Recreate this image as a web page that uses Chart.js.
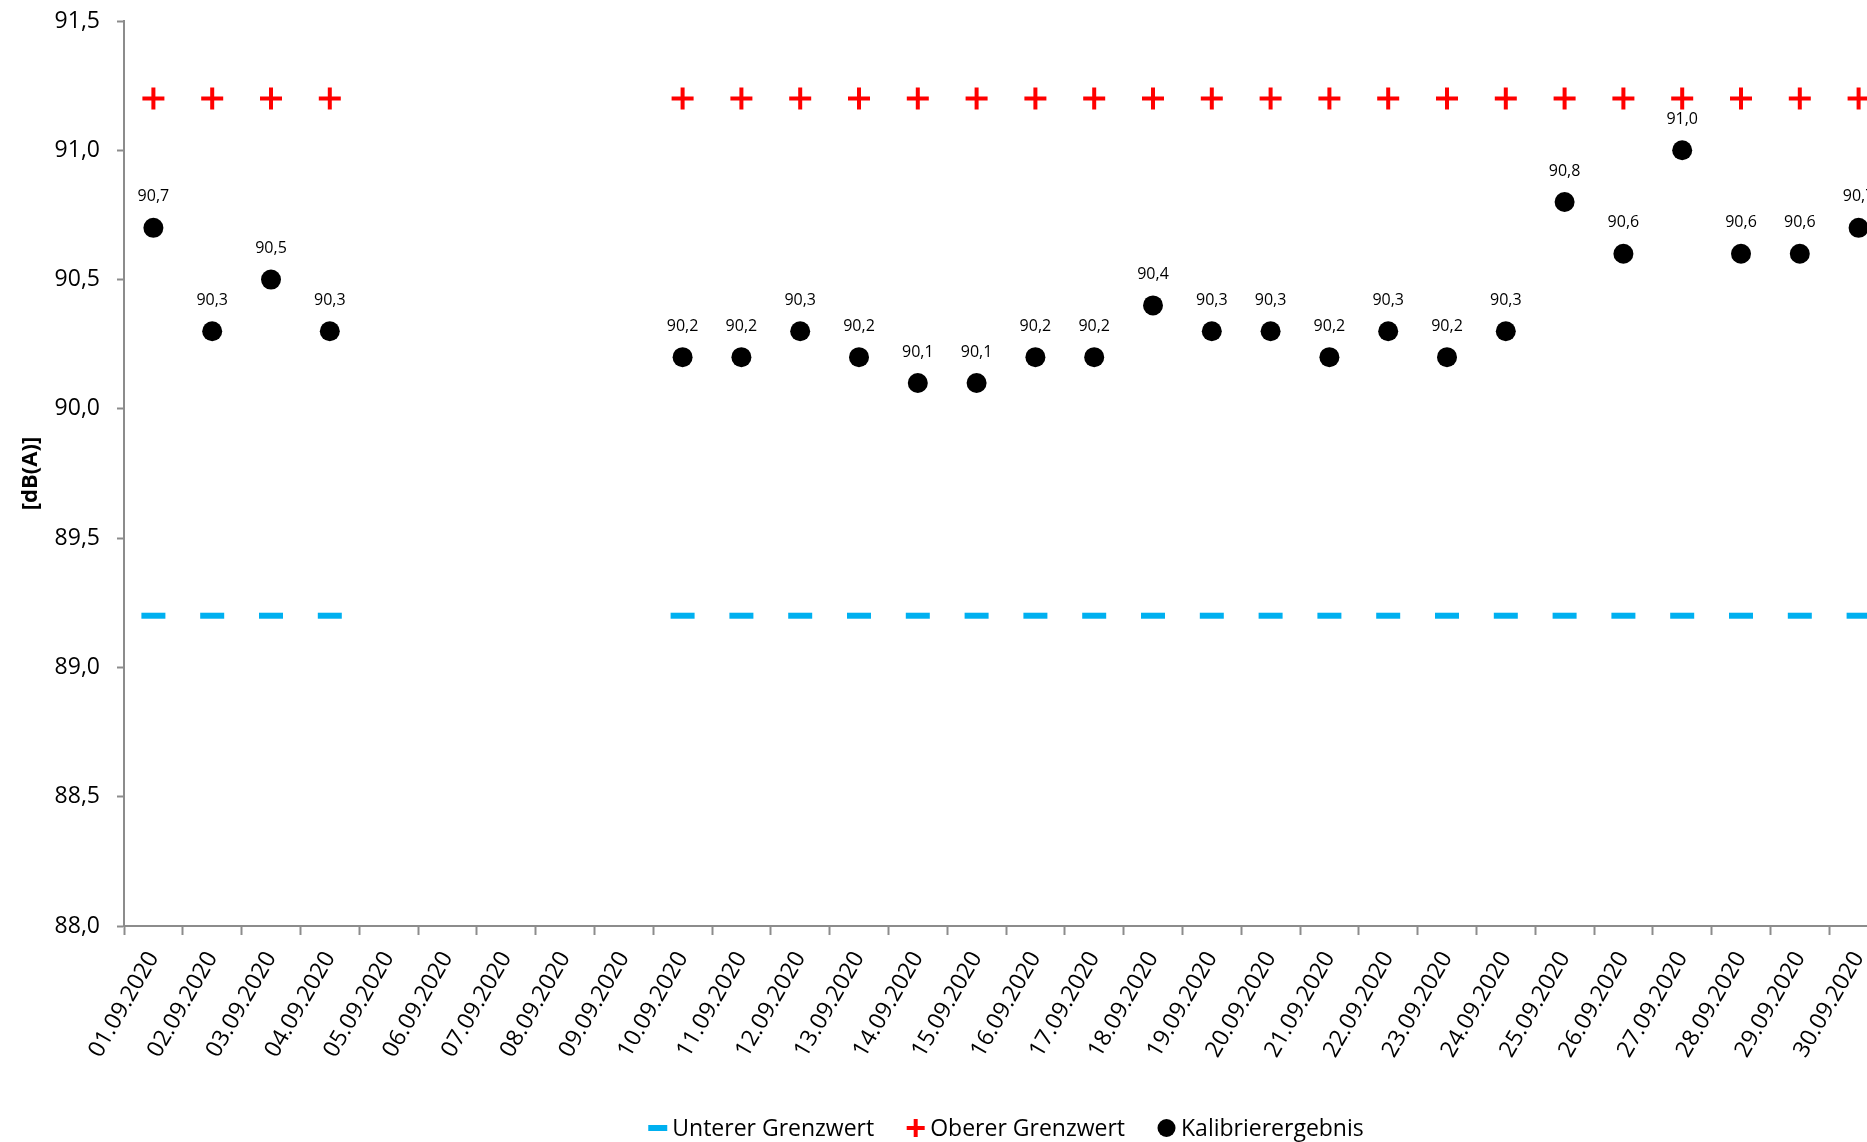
<!DOCTYPE html>
<html lang="de">
<head>
    <meta charset="UTF-8">
    <title>Kalibrierergebnis September 2020</title>
    <script src="https://cdn.jsdelivr.net/npm/chart.js"></script>
    <style>
        html, body {
            margin: 0;
            padding: 0;
            background: #ffffff;
            overflow: hidden;
        }
        /* plot runs past the right edge like in the original export */
        #kalChart {
            display: block;
            width: 1890px !important;
            height: 1142px !important;
            max-width: none !important;
            max-height: none !important;
        }
    </style>
</head>
<body>
    <canvas id="kalChart" width="1890" height="1142"></canvas>

    <script>
        const days = [
            '01.09.2020', '02.09.2020', '03.09.2020', '04.09.2020', '05.09.2020',
            '06.09.2020', '07.09.2020', '08.09.2020', '09.09.2020', '10.09.2020',
            '11.09.2020', '12.09.2020', '13.09.2020', '14.09.2020', '15.09.2020',
            '16.09.2020', '17.09.2020', '18.09.2020', '19.09.2020', '20.09.2020',
            '21.09.2020', '22.09.2020', '23.09.2020', '24.09.2020', '25.09.2020',
            '26.09.2020', '27.09.2020', '28.09.2020', '29.09.2020', '30.09.2020'
        ];

        const untererGrenzwert = [
            89.2, 89.2, 89.2, 89.2, null, null, null, null, null, 89.2,
            89.2, 89.2, 89.2, 89.2, 89.2, 89.2, 89.2, 89.2, 89.2, 89.2,
            89.2, 89.2, 89.2, 89.2, 89.2, 89.2, 89.2, 89.2, 89.2, 89.2
        ];

        const obererGrenzwert = [
            91.2, 91.2, 91.2, 91.2, null, null, null, null, null, 91.2,
            91.2, 91.2, 91.2, 91.2, 91.2, 91.2, 91.2, 91.2, 91.2, 91.2,
            91.2, 91.2, 91.2, 91.2, 91.2, 91.2, 91.2, 91.2, 91.2, 91.2
        ];

        const kalibrierergebnis = [
            90.7, 90.3, 90.5, 90.3, null, null, null, null, null, 90.2,
            90.2, 90.3, 90.2, 90.1, 90.1, 90.2, 90.2, 90.4, 90.3, 90.3,
            90.2, 90.3, 90.2, 90.3, 90.8, 90.6, 91.0, 90.6, 90.6, 90.7
        ];

        const yMin = 88.0;
        const yMax = 91.5;
        const yStep = 0.5;

        const axisGrey = '#8c8c8c';
        const fontFamily = '"Open Sans", "DejaVu Sans", sans-serif';

        function deNum(v) {
            return Number(v).toFixed(1).replace('.', ',');
        }

        // value labels above the black points
        const valueLabels = {
            id: 'valueLabels',
            afterDatasetsDraw(chart) {
                const ctx = chart.ctx;
                const meta = chart.getDatasetMeta(2);
                ctx.save();
                ctx.font = '16px ' + fontFamily;
                ctx.fillStyle = '#000000';
                ctx.textAlign = 'center';
                ctx.textBaseline = 'middle';
                meta.data.forEach(function (pt, i) {
                    const v = kalibrierergebnis[i];
                    if (v === null || pt.skip) return;
                    ctx.fillText(deNum(v), pt.x, pt.y - 31);
                });
                ctx.restore();
            }
        };

        // Excel-like legend, centred under the plot area
        const bottomLegend = {
            id: 'bottomLegend',
            afterDraw(chart) {
                const ctx = chart.ctx;
                const area = chart.chartArea;
                const y = chart.height - 14;
                const markW = 19, gapText = 5, gapItem = 32;
                ctx.save();
                ctx.font = '23px ' + fontFamily;
                ctx.textBaseline = 'middle';
                ctx.textAlign = 'left';
                const items = chart.data.datasets.map(function (ds) {
                    return { ds: ds, w: markW + gapText + ctx.measureText(ds.label).width };
                });
                let total = items.reduce(function (s, it) { return s + it.w; }, 0) + gapItem * (items.length - 1);
                let x = (area.left + area.right) / 2 - total / 2;
                items.forEach(function (it) {
                    const ds = it.ds;
                    const cx = x + markW / 2;
                    ctx.strokeStyle = ds.borderColor;
                    ctx.fillStyle = ds.backgroundColor;
                    if (ds.pointStyle === 'line') {
                        ctx.lineWidth = 6;
                        ctx.beginPath();
                        ctx.moveTo(x, y);
                        ctx.lineTo(x + markW, y);
                        ctx.stroke();
                    } else if (ds.pointStyle === 'cross') {
                        ctx.lineWidth = 4;
                        ctx.beginPath();
                        ctx.moveTo(cx - 9, y);
                        ctx.lineTo(cx + 9, y);
                        ctx.moveTo(cx, y - 9);
                        ctx.lineTo(cx, y + 9);
                        ctx.stroke();
                    } else {
                        ctx.beginPath();
                        ctx.arc(cx, y, 9, 0, Math.PI * 2);
                        ctx.fill();
                    }
                    ctx.fillStyle = '#000000';
                    ctx.fillText(ds.label, x + markW + gapText, y + 1);
                    x += it.w + gapItem;
                });
                ctx.restore();
            }
        };

        new Chart(document.getElementById('kalChart'), {
            type: 'line',
            data: {
                labels: days,
                datasets: [
                    {
                        label: 'Unterer Grenzwert',
                        data: untererGrenzwert,
                        showLine: false,
                        pointStyle: 'line',
                        pointRadius: 12,
                        pointHoverRadius: 12,
                        borderWidth: 6,
                        pointBorderWidth: 6,
                        borderColor: '#00b0f0',
                        backgroundColor: '#00b0f0'
                    },
                    {
                        label: 'Oberer Grenzwert',
                        data: obererGrenzwert,
                        showLine: false,
                        pointStyle: 'cross',
                        pointRadius: 11,
                        pointHoverRadius: 11,
                        borderWidth: 4,
                        pointBorderWidth: 4,
                        borderColor: '#ff0000',
                        backgroundColor: '#ff0000'
                    },
                    {
                        label: 'Kalibrierergebnis',
                        data: kalibrierergebnis,
                        showLine: false,
                        pointStyle: 'circle',
                        pointRadius: 10,
                        pointHoverRadius: 10,
                        borderWidth: 0,
                        pointBorderWidth: 0,
                        borderColor: '#000000',
                        backgroundColor: '#000000'
                    }
                ]
            },
            options: {
                responsive: false,
                maintainAspectRatio: false,
                animation: false,
                devicePixelRatio: 1,
                layout: {
                    autoPadding: false,
                    padding: { top: 21, right: 2, bottom: 50, left: 12 }
                },
                plugins: {
                    tooltip: { enabled: false },
                    legend: { display: false }
                },
                scales: {
                    x: {
                        offset: true,
                        afterFit: function (scale) {
                            scale.height = 166;
                            scale.paddingLeft = 0;
                            scale.paddingRight = 0;
                        },
                        grid: {
                            display: true,
                            offset: true,
                            drawOnChartArea: false,
                            drawTicks: true,
                            tickLength: 9,
                            tickWidth: 2,
                            color: axisGrey
                        },
                        border: { display: true, color: axisGrey, width: 2 },
                        ticks: {
                            autoSkip: false,
                            maxRotation: 60,
                            minRotation: 60,
                            padding: 12,
                            color: '#000000',
                            font: { family: fontFamily, size: 23 }
                        }
                    },
                    y: {
                        min: yMin,
                        max: yMax,
                        afterFit: function (scale) {
                            scale.width = 112;
                            scale.paddingTop = 0;
                            scale.paddingBottom = 0;
                        },
                        grid: {
                            display: true,
                            drawOnChartArea: false,
                            drawTicks: true,
                            tickLength: 7,
                            tickWidth: 2,
                            color: axisGrey
                        },
                        border: { display: true, color: axisGrey, width: 2 },
                        ticks: {
                            stepSize: yStep,
                            padding: 17,
                            color: '#000000',
                            font: { family: fontFamily, size: 23 },
                            callback: function (v) { return deNum(v); }
                        },
                        title: {
                            display: true,
                            text: '[dB(A)]',
                            color: '#000000',
                            padding: { top: 6, bottom: 6 },
                            font: { family: fontFamily, size: 22, weight: 'bold' }
                        }
                    }
                }
            },
            plugins: [valueLabels, bottomLegend]
        });
    </script>
</body>
</html>
